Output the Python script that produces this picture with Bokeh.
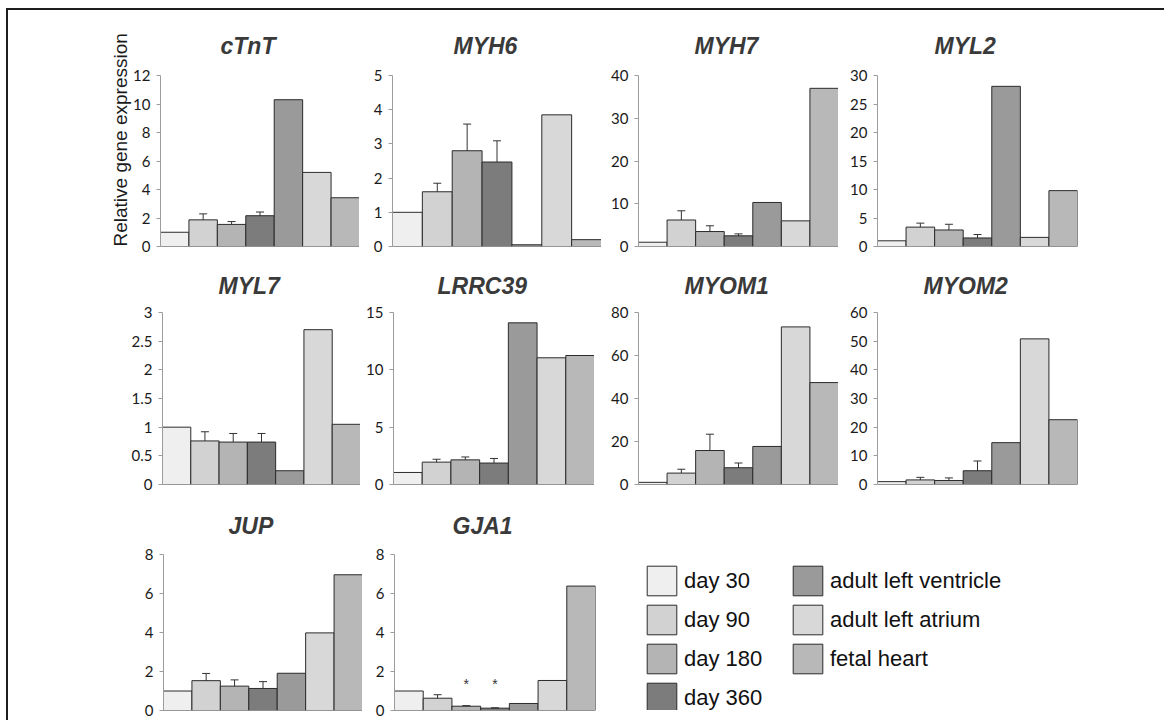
from bokeh.plotting import figure
from bokeh.models import (FactorRange, Range1d, FixedTicker, Span, Whisker, TeeHead,
                          ColumnDataSource, Legend, LegendItem, Title)
from bokeh.layouts import row, column
from bokeh.embed import file_html
from bokeh.resources import INLINE

# ---------------- data ----------------
samples = ["day 30", "day 90", "day 180", "day 360",
           "adult left ventricle", "adult left atrium", "fetal heart"]
colors = ["#efefef", "#d2d2d2", "#b4b4b4", "#7c7c7c", "#9a9a9a", "#d8d8d8", "#b8b8b8"]

genes = ["cTnT", "MYH6", "MYH7", "MYL2", "MYL7", "LRRC39", "MYOM1", "MYOM2", "JUP", "GJA1"]

cTnT = [1.0, 1.87, 1.55, 2.16, 10.3, 5.2, 3.42]
cTnT_err = [0, 0.42, 0.20, 0.26, 0, 0, 0]
MYH6 = [1.0, 1.6, 2.8, 2.47, 0.05, 3.85, 0.2]
MYH6_err = [0, 0.25, 0.78, 0.62, 0, 0, 0]
MYH7 = [1.0, 6.2, 3.5, 2.5, 10.3, 6.0, 37.0]
MYH7_err = [0, 2.15, 1.35, 0.45, 0, 0, 0]
MYL2 = [1.0, 3.4, 2.9, 1.5, 28.1, 1.6, 9.8]
MYL2_err = [0, 0.7, 1.0, 0.6, 0, 0, 0]
MYL7 = [1.0, 0.76, 0.74, 0.74, 0.24, 2.7, 1.05]
MYL7_err = [0, 0.16, 0.15, 0.15, 0, 0, 0]
LRRC39 = [1.05, 1.95, 2.15, 1.87, 14.1, 11.05, 11.25]
LRRC39_err = [0, 0.25, 0.25, 0.4, 0, 0, 0]
MYOM1 = [1.0, 5.3, 15.8, 7.8, 17.7, 73.3, 47.4]
MYOM1_err = [0, 1.8, 7.6, 2.2, 0, 0, 0]
MYOM2 = [1.0, 1.6, 1.4, 4.8, 14.6, 50.8, 22.6]
MYOM2_err = [0, 0.9, 0.9, 3.4, 0, 0, 0]
JUP = [1.0, 1.53, 1.25, 1.13, 1.91, 3.98, 6.96]
JUP_err = [0, 0.37, 0.32, 0.35, 0, 0, 0]
GJA1 = [1.0, 0.63, 0.22, 0.12, 0.36, 1.54, 6.38]
GJA1_err = [0, 0.18, 0.03, 0.02, 0, 0, 0]
GJA1_marks = ["", "", "*", "*", "", "", ""]

axis_max = [12, 5, 40, 30, 3, 15, 80, 60, 8, 8]
axis_step = [2, 1, 10, 5, 0.5, 5, 20, 10, 2, 2]
y_label = "Relative gene expression"

values = [cTnT, MYH6, MYH7, MYL2, MYL7, LRRC39, MYOM1, MYOM2, JUP, GJA1]
errors = [cTnT_err, MYH6_err, MYH7_err, MYL2_err, MYL7_err, LRRC39_err,
          MYOM1_err, MYOM2_err, JUP_err, GJA1_err]

# ---------------- layout (pixels) ----------------
# per panel: (left border, frame width, right border)
col_specs = [(152, 199, 0), (33, 209, 0), (37, 200, 0), (39, 200, 87),
             (154, 198, 0), (33, 201, 0), (44, 200, 0), (39, 200, 87),
             (155, 199, 0), (32, 201, 20)]
# per row: (top border, frame height, bottom border, title standoff)
row_specs = [(65, 171, 8, 34), (58, 172, 8, 28), (62, 156, 10, 32)]
TITLE_SIZE = 23
TITLE_SHIFT = -12   # title centre relative to frame centre

# approximate Arial-Bold advance widths (em) used to centre the titles
ADV = {"c": .556, "T": .611, "n": .611, "M": .833, "Y": .667, "H": .722, "L": .611,
       "R": .722, "C": .722, "O": .778, "J": .556, "U": .722, "P": .667, "G": .778,
       "A": .722}

TXT = "#1a1a1a"
AX = "#9c9c9c"
EDGE = "#2b2b2b"


def fmt(t):
    return str(int(t)) if float(t).is_integer() else f"{t:g}"


def text_w(s):
    return sum(ADV.get(ch, .556) for ch in s) * TITLE_SIZE


def make_panel(k, rspec):
    name, vals, errs = genes[k], values[k], errors[k]
    left, fw, right = col_specs[k]
    top, fh, bottom, stand = rspec
    p = figure(width=left + fw + right, height=top + fh + bottom,
               x_range=FactorRange(*samples), y_range=Range1d(0, axis_max[k]),
               output_backend="svg", toolbar_location=None, x_axis_location=None,
               min_border_left=left, min_border_right=right,
               min_border_top=top, min_border_bottom=bottom, title=name)
    p.outline_line_color = None
    p.grid.visible = False
    p.background_fill_color = "white"
    p.border_fill_color = "white"

    p.title.text_font = "Liberation Sans"
    p.title.text_font_style = "bold italic"
    p.title.text_font_size = f"{TITLE_SIZE}px"
    p.title.text_color = "#3a3a3a"
    p.title.align = "left"
    p.title.offset = int(round(fw / 2 + TITLE_SHIFT - text_w(name) / 2))
    p.title.standoff = stand

    n = int(round(axis_max[k] / axis_step[k]))
    ticks = []
    for i in range(n + 1):
        t = round(i * axis_step[k], 6)
        ticks.append(int(t) if float(t).is_integer() else t)
    ax = p.yaxis[0]
    ax.ticker = FixedTicker(ticks=ticks)
    ax.major_label_overrides = {t: fmt(t) for t in ticks}
    ax.axis_line_color = AX
    ax.major_tick_line_color = AX
    ax.major_tick_out = 4
    ax.major_tick_in = 0
    ax.minor_tick_line_color = None
    ax.major_label_standoff = 6
    ax.major_label_text_font = "Lato"
    ax.major_label_text_font_size = "15px"
    ax.major_label_text_color = TXT

    src = ColumnDataSource(dict(x=samples, top=vals, color=colors))
    p.vbar(x="x", top="top", width=1.0, source=src, fill_color="color",
           line_color=EDGE, line_width=1)
    p.add_layout(Span(location=0, dimension="width", line_color=AX, line_width=1))

    idx = [i for i, e in enumerate(errs) if e > 0]
    if idx:
        wsrc = ColumnDataSource(dict(
            x=[samples[i] for i in idx],
            upper=[vals[i] + errs[i] for i in idx],
            lower=[vals[i] - errs[i] for i in idx]))
        p.add_layout(Whisker(source=wsrc, base="x", upper="upper", lower="lower",
                             line_color="#333333", line_width=1,
                             upper_head=TeeHead(size=8, line_color="#333333", line_width=1),
                             lower_head=TeeHead(size=8, line_color="#333333", line_width=1)))
    return p


panels = []
for k in range(10):
    r = 0 if k < 4 else (1 if k < 8 else 2)
    panels.append(make_panel(k, row_specs[r]))

# y axis title on first panel: a side title starting at the frame bottom
ylab = Title(text=y_label, align="left", offset=0, standoff=0,
             vertical_align="bottom", text_font="Liberation Sans",
             text_font_style="normal", text_font_size="19px", text_color=TXT)
panels[0].add_layout(ylab, "left")

# asterisks on GJA1
star_y = 1.35
mx = [samples[i] for i, m in enumerate(GJA1_marks) if m]
mt = [m for m in GJA1_marks if m]
panels[9].text(x=mx, y=[star_y] * len(mx), text=mt, text_align="center",
               text_baseline="middle", text_font_size="14px", text_color="#333333")

# legend figure (a hidden bar renderer supplies the legend swatches)
leg_h = row_specs[2][0] + row_specs[2][1] + row_specs[2][2]
leg = figure(width=549, height=leg_h, x_range=FactorRange(*samples), y_range=(0, 1),
             output_backend="svg", toolbar_location=None,
             x_axis_location=None, y_axis_location=None, min_border=0)
leg.outline_line_color = None
leg.grid.visible = False
lsrc = ColumnDataSource(dict(x=samples, top=[1] * len(samples), color=colors))
lr = leg.vbar(x="x", top="top", width=0.9, source=lsrc, fill_color="color",
              line_color=EDGE, line_width=1)
lr.visible = False


def style_legend(lg):
    lg.border_line_color = None
    lg.background_fill_alpha = 0
    lg.inactive_fill_alpha = 0
    lg.padding = 0
    lg.margin = 0
    lg.spacing = 2
    lg.glyph_width = 37
    lg.glyph_height = 37
    lg.label_standoff = 4
    lg.label_text_font = "Liberation Sans"
    lg.label_text_font_size = "22px"
    lg.label_text_color = "#111111"


legA = Legend(items=[LegendItem(label=samples[i], renderers=[lr], index=i) for i in range(4)],
              location=(28, -6))
legB = Legend(items=[LegendItem(label=samples[i], renderers=[lr], index=i) for i in range(4, 7)],
              location=(174, 33))
style_legend(legA)
style_legend(legB)
leg.add_layout(legA)
leg.add_layout(legB)

layout = column(
    row(*panels[0:4]),
    row(*panels[4:8]),
    row(panels[8], panels[9], leg),
    margin=(8, 0, 0, 6),
    styles={"border-top": "2px solid #1e1e1e", "border-left": "2px solid #1e1e1e"},
)

open("out.html", "w").write(file_html(layout, INLINE))
